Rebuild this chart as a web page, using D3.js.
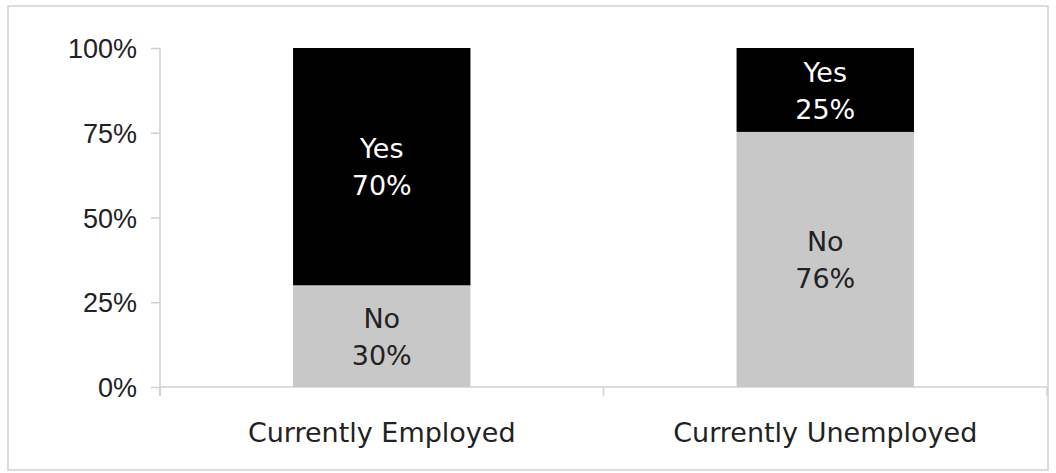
<!DOCTYPE html>
<html>
<head>
<meta charset="utf-8">
<script src="https://cdn.jsdelivr.net/npm/d3@7"></script>
<style>
  html, body { margin: 0; padding: 0; background: #fff; }
  svg { display: block; font-family: "DejaVu Sans", sans-serif; }
</style>
</head>
<body>
<svg id="chart" width="1056" height="473"></svg>
<script>
// Survey answers by employment status (percent of respondents)
const categories = ["Currently Employed", "Currently Unemployed"];
const seriesNames = ["No", "Yes"];
const noValues = [30, 76];
const yesValues = [70, 25];
const yTicks = [0, 0.25, 0.5, 0.75, 1];

const colors = { No: "#c8c8c8", Yes: "#000000" };
const labelColors = { No: "#222222", Yes: "#ffffff" };
const FONT = 27;

const rows = categories.map((c, i) => ({ category: c, No: noValues[i], Yes: yesValues[i] }));

const svg = d3.select("#chart");
const W = 1056, H = 473;
const margin = { top: 48, right: 9, bottom: 86, left: 160 };

// Outer frame
svg.append("rect")
  .attr("x", 8).attr("y", 6)
  .attr("width", W - 16).attr("height", H - 9)
  .attr("fill", "#fff")
  .attr("stroke", "#dcdcdc")
  .attr("stroke-width", 2);

const x = d3.scaleBand()
  .domain(categories)
  .range([margin.left, W - margin.right])
  .paddingInner(0.6)
  .paddingOuter(0.3);

const y = d3.scaleLinear()
  .domain([0, 1])
  .range([H - margin.bottom, margin.top]);

// 100% stacked layout
const stack = d3.stack().keys(seriesNames).offset(d3.stackOffsetExpand);
const layers = stack(rows);

// Y axis
const yAxis = svg.append("g")
  .attr("transform", `translate(${margin.left},0)`)
  .call(d3.axisLeft(y).tickValues(yTicks).tickFormat(d3.format(".0%")).tickSize(9).tickPadding(14));
yAxis.select(".domain").attr("stroke", "#d0d0d0").attr("stroke-width", 1.5)
  .attr("d", `M0,${y(1)}V${y(0) + 9}`);
yAxis.selectAll(".tick line").attr("stroke", "#d0d0d0").attr("stroke-width", 1.5);
yAxis.selectAll(".tick text")
  .attr("fill", "#222").attr("font-size", FONT).attr("dy", "0.36em");

// X axis with band-boundary ticks
const xAxisG = svg.append("g").attr("transform", `translate(0,${y(0)})`);
xAxisG.append("line")
  .attr("x1", margin.left).attr("x2", W - margin.right)
  .attr("stroke", "#d0d0d0").attr("stroke-width", 1.5);
const bounds = [x.range()[0], (x(categories[0]) + x.bandwidth() + x(categories[1])) / 2, x.range()[1]];
xAxisG.selectAll(".bt").data(bounds).join("line")
  .attr("x1", d => d).attr("x2", d => d)
  .attr("y1", 0).attr("y2", 9)
  .attr("stroke", "#d0d0d0").attr("stroke-width", 1.5);
xAxisG.selectAll(".cat").data(categories).join("text")
  .attr("x", d => x(d) + x.bandwidth() / 2)
  .attr("y", 55)
  .attr("text-anchor", "middle")
  .attr("fill", "#222")
  .attr("font-size", FONT)
  .text(d => d);

// Bars
const layerG = svg.selectAll(".layer").data(layers).join("g")
  .attr("fill", d => colors[d.key]);
layerG.selectAll("rect").data(d => d).join("rect")
  .attr("x", d => x(d.data.category))
  .attr("width", x.bandwidth())
  .attr("y", d => y(d[1]))
  .attr("height", d => y(d[0]) - y(d[1]));

// Segment labels: series name and value, centred in each segment
layers.forEach(layer => {
  layer.forEach(seg => {
    const cx = x(seg.data.category) + x.bandwidth() / 2;
    const cy = (y(seg[0]) + y(seg[1])) / 2;
    const t = svg.append("text")
      .attr("text-anchor", "middle")
      .attr("fill", labelColors[layer.key])
      .attr("font-size", FONT);
    t.append("tspan").attr("x", cx).attr("y", cy - 18).attr("dy", "0.36em").text(layer.key);
    t.append("tspan").attr("x", cx).attr("y", cy + 19).attr("dy", "0.36em").text(seg.data[layer.key] + "%");
  });
});
</script>
</body>
</html>
